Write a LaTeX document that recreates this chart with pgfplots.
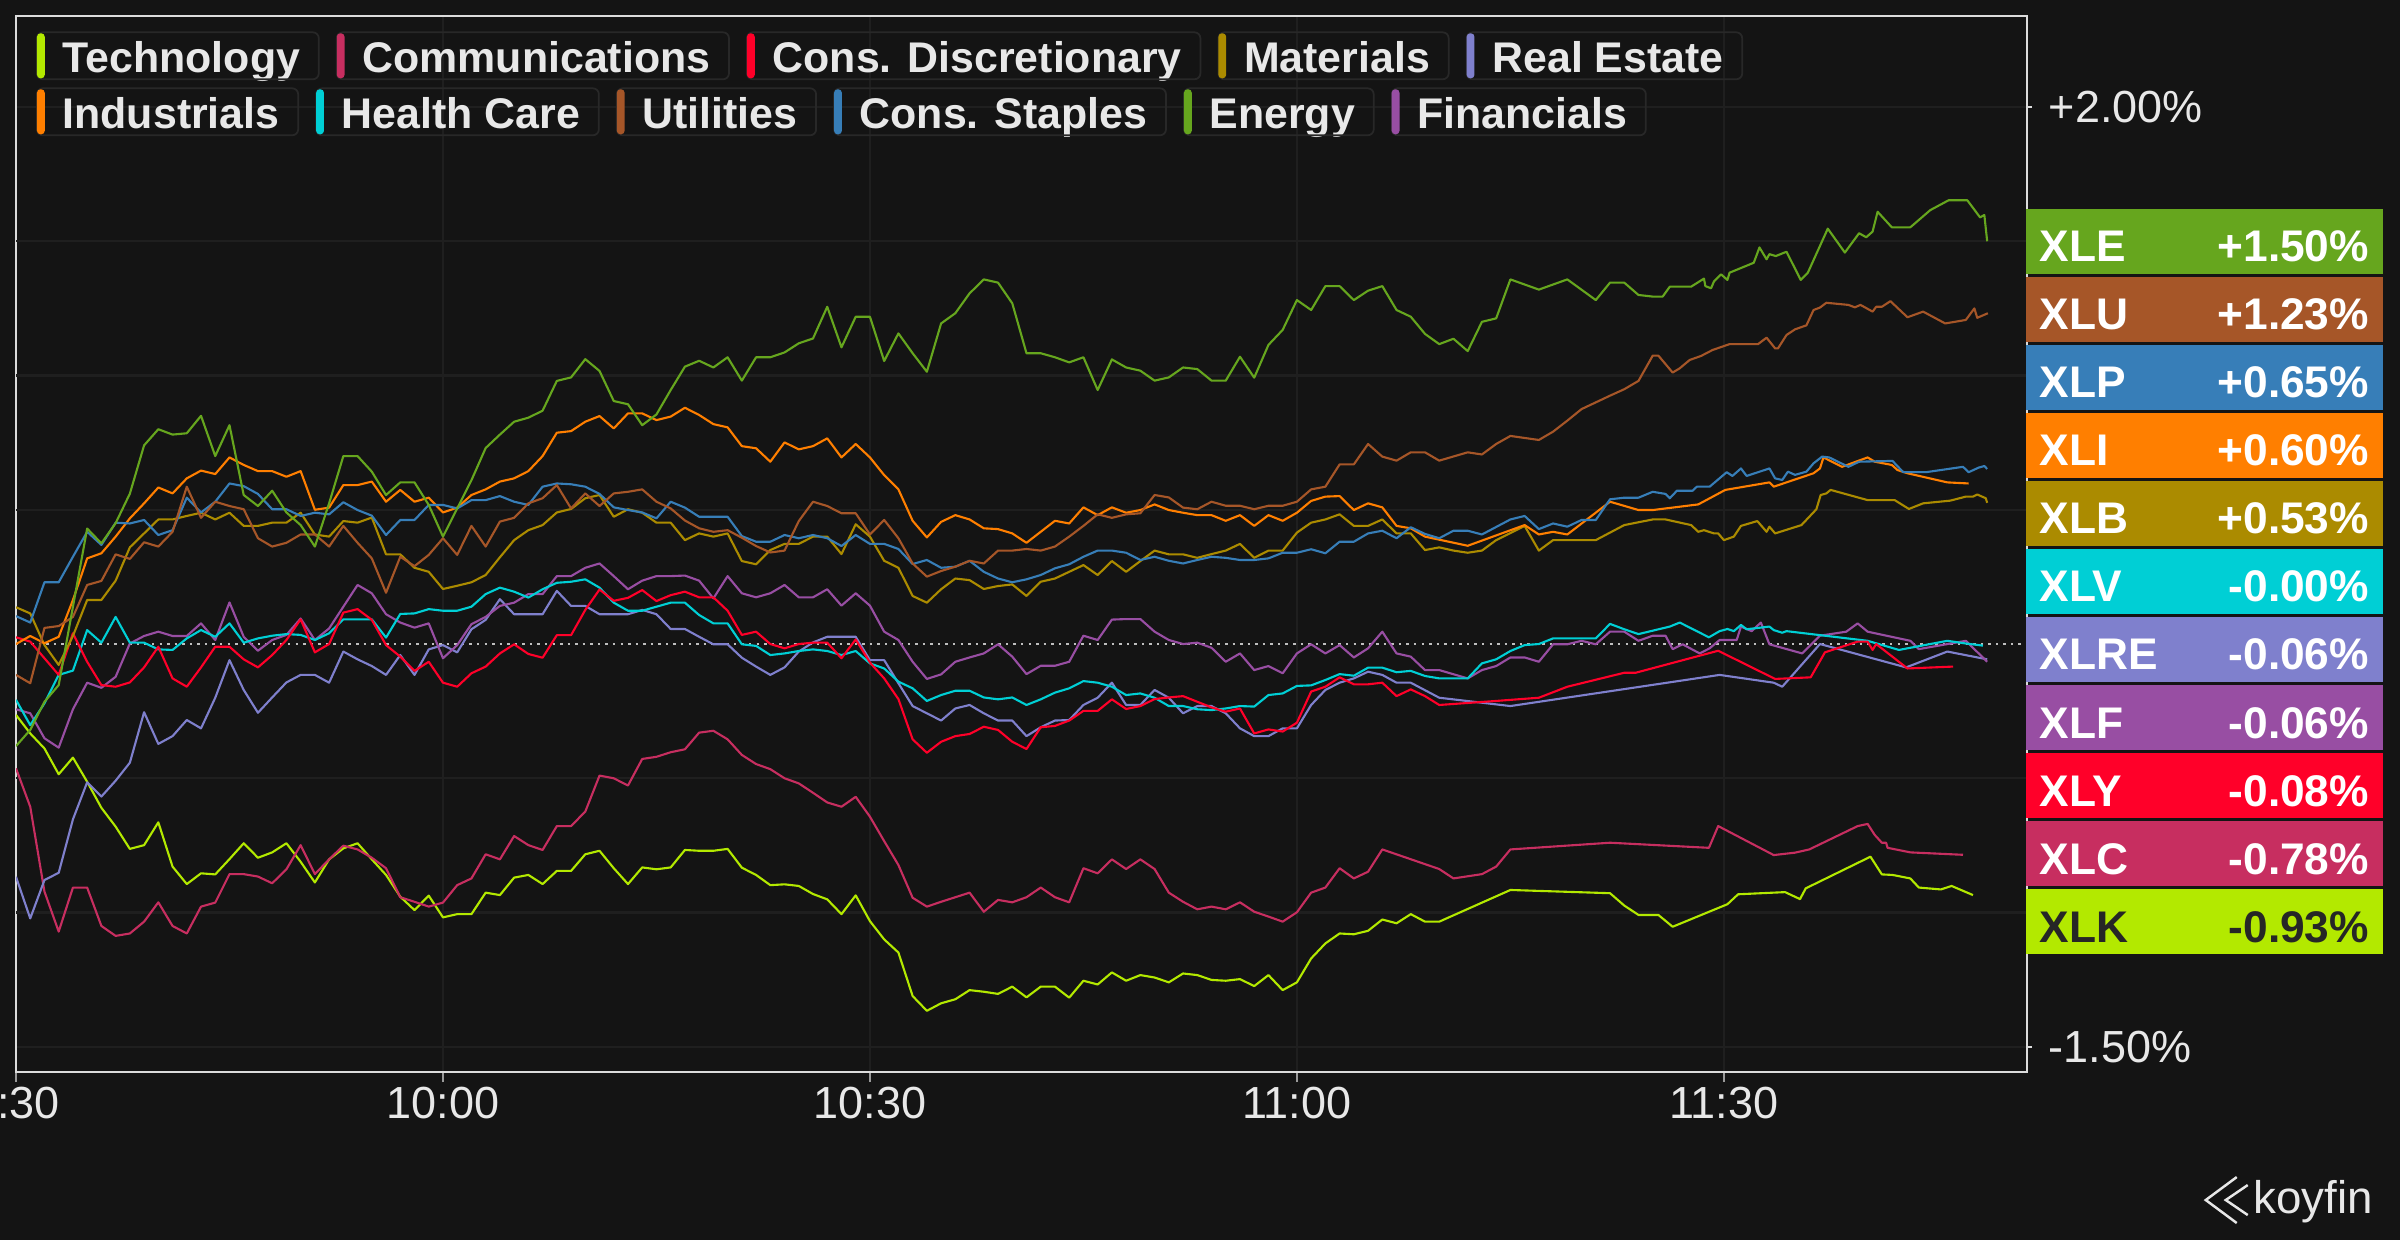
\documentclass[border=0pt]{standalone}
\usepackage{pgfplots}
\pgfplotsset{compat=1.18}
\usepackage{fontspec}
\setmainfont{Liberation Sans}
\usetikzlibrary{calc}
\definecolor{bg}{HTML}{141414}
\definecolor{gridc}{HTML}{1F1F1F}
\definecolor{framec}{HTML}{DCDCDC}
\definecolor{txt}{HTML}{E8E8E8}
\definecolor{legbox}{HTML}{282828}
\definecolor{cTech}{HTML}{B3E900}
\definecolor{cComm}{HTML}{C72E60}
\definecolor{cDisc}{HTML}{FF0029}
\definecolor{cMat}{HTML}{AB8B00}
\definecolor{cRE}{HTML}{7F80CD}
\definecolor{cInd}{HTML}{FF7F00}
\definecolor{cHC}{HTML}{00CFD5}
\definecolor{cUtil}{HTML}{A65628}
\definecolor{cStap}{HTML}{377EB8}
\definecolor{cEn}{HTML}{66A61E}
\definecolor{cFin}{HTML}{984EA3}
\tikzset{
  legt/.style={font=\bfseries\fontsize{12.2pt}{14pt}\selectfont, text=txt, inner sep=0pt},
  tagt/.style={font=\bfseries\fontsize{12.6pt}{15pt}\selectfont, inner sep=0pt},
  ser/.style={line width=0.6pt, line join=round}
}
\newcommand{\legitem}[6]{%
  \node[legt, anchor=base west] (#1) at #2 {#4};
  \draw[legbox, line width=0.5pt, rounded corners=0.06cm] let \p1=(#1.base west), \p2=(#1.base east) in
     (\x1-0.25cm,#6) rectangle (\x2+0.18cm,#5);
  \fill[#3, rounded corners=0.035cm] let \p1=(#1.base west) in
     (\x1-0.25cm,#6+0.01cm) rectangle (\x1-0.172cm,#5-0.01cm);
}
\newcommand{\tagbox}[5]{%
  \pgfmathsetmacro{\yt}{1240-208-68.1*#1}
  \fill[#2] (2027,\yt) rectangle (2384,\yt-65.3);
  \node[tagt, text=#5, anchor=base west] at (2040,\yt-53) {#3};
  \node[tagt, text=#5, anchor=base east] at (2371,\yt-53) {#4};
}
\begin{document}
\begin{tikzpicture}
\fill[bg] (0,0) rectangle (24cm,12.4cm);
\begin{axis}[
  at={(0.16cm,1.68cm)}, anchor=south west, scale only axis,
  width=20.11cm, height=10.56cm,
  xmin=0, xmax=141.3, ymin=-1.594, ymax=2.339,
  axis line style={draw=framec, line width=0.7pt},
  xtick={0,30,60,90,120},
  xticklabels={9:30,10:00,10:30,11:00,11:30},
  ytick={-1.5,2},
  yticklabels={-1.50\%,+2.00\%},
  extra y ticks={-1,-0.5,0.5,1,1.5},
  extra y tick labels={},
  extra y tick style={major tick length=0pt, grid=major},
  xtick pos=lower, ytick pos=upper, yticklabel pos=upper,
  tick align=outside,
  x tick style={draw=framec!70!black, line width=0.4pt},
  y tick style={draw=framec, line width=0.6pt},
  xmajorgrids, ymajorgrids,
  major grid style={draw=gridc, line width=0.6pt},
  xtick style={/pgfplots/major tick length=0.1cm},
  ytick style={/pgfplots/major tick length=0.05cm},
  xticklabel style={font=\fontsize{12.8pt}{15pt}\selectfont, text=txt, inner sep=0pt, anchor=north, yshift=0.01cm},
  yticklabel style={font=\fontsize{12.8pt}{15pt}\selectfont, text=txt, inner sep=0pt, anchor=west, xshift=0.06cm},
  clip=true,
]
\draw[draw=white!75!black, line width=0.6pt, dash pattern=on 0.7pt off 1.45pt] (axis cs:0,0) -- (axis cs:141.3,0);
% Technology
\addplot[ser, cTech] coordinates {(0,-0.264)(1,-0.333)(2,-0.389)(3,-0.485)(4,-0.423)(5,-0.513)(6,-0.61)(7,-0.68)(8,-0.763)(9,-0.749)(10,-0.664)(11,-0.829)(12,-0.894)(13,-0.854)(14,-0.858)(15,-0.801)(16,-0.742)(17,-0.796)(18,-0.776)(19,-0.742)(20,-0.811)(21,-0.888)(22,-0.802)(23,-0.761)(24,-0.742)(25,-0.802)(26,-0.86)(27,-0.941)(28,-0.991)(29,-0.937)(30,-1.018)(31,-1.006)(32,-1.006)(33,-0.926)(34,-0.935)(35,-0.87)(36,-0.86)(37,-0.894)(38,-0.845)(39,-0.845)(40,-0.783)(41,-0.77)(42,-0.835)(43,-0.894)(44,-0.832)(45,-0.839)(46,-0.832)(47,-0.767)(48,-0.77)(49,-0.77)(50,-0.763)(51,-0.833)(52,-0.86)(53,-0.898)(54,-0.895)(55,-0.901)(56,-0.931)(57,-0.951)(58,-1.006)(59,-0.936)(60,-1.032)(61,-1.1)(62,-1.149)(63,-1.311)(64,-1.366)(65,-1.338)(66,-1.323)(67,-1.289)(68,-1.295)(69,-1.303)(70,-1.276)(71,-1.316)(72,-1.276)(73,-1.276)(74,-1.317)(75,-1.254)(76,-1.268)(77,-1.223)(78,-1.254)(79,-1.233)(80,-1.242)(81,-1.26)(82,-1.227)(83,-1.233)(84,-1.251)(85,-1.254)(86,-1.248)(87,-1.274)(88,-1.233)(89,-1.289)(90,-1.26)(91,-1.171)(92,-1.115)(93,-1.078)(94,-1.081)(95,-1.068)(96,-1.026)(97,-1.04)(98,-1.006)(99,-1.034)(100,-1.034)(105,-0.916)(112,-0.928)(113,-0.974)(114,-1.009)(115.4,-1.009)(116.4,-1.053)(120.25,-0.969)(121,-0.932)(124.3,-0.924)(125.35,-0.95)(125.75,-0.91)(130.3,-0.792)(131.1,-0.858)(131.85,-0.86)(133.1,-0.873)(133.7,-0.907)(135.25,-0.914)(136,-0.901)(137.5,-0.935)};
% Communications
\addplot[ser, cComm] coordinates {(0,-0.463)(1,-0.606)(2,-0.922)(3,-1.071)(4,-0.907)(5,-0.907)(6,-1.05)(7,-1.087)(8,-1.078)(9,-1.034)(10,-0.962)(11,-1.05)(12,-1.078)(13,-0.978)(14,-0.963)(15,-0.857)(16,-0.857)(17,-0.866)(18,-0.891)(19,-0.839)(20,-0.749)(21,-0.857)(22,-0.802)(23,-0.751)(24,-0.765)(25,-0.796)(26,-0.835)(27,-0.943)(28,-0.96)(29,-0.978)(30,-0.963)(31,-0.898)(32,-0.873)(33,-0.783)(34,-0.802)(35,-0.715)(36,-0.749)(37,-0.767)(38,-0.678)(39,-0.678)(40,-0.624)(41,-0.49)(42,-0.5)(43,-0.527)(44,-0.428)(45,-0.42)(46,-0.403)(47,-0.392)(48,-0.33)(49,-0.323)(50,-0.355)(51,-0.413)(52,-0.447)(53,-0.466)(54,-0.5)(55,-0.519)(56,-0.554)(57,-0.59)(58,-0.606)(59,-0.569)(60,-0.643)(61,-0.734)(62,-0.823)(63,-0.945)(64,-0.978)(65,-0.96)(66,-0.943)(67,-0.926)(68,-0.997)(69,-0.953)(70,-0.962)(71,-0.943)(72,-0.907)(73,-0.943)(74,-0.962)(75,-0.835)(76,-0.854)(77,-0.802)(78,-0.838)(79,-0.802)(80,-0.838)(81,-0.926)(82,-0.96)(83,-0.988)(84,-0.978)(85,-0.988)(86,-0.962)(87,-0.997)(88,-1.015)(89,-1.034)(90,-0.999)(91,-0.926)(92,-0.907)(93,-0.835)(94,-0.873)(95,-0.848)(96,-0.765)(100,-0.838)(101,-0.873)(103,-0.857)(104,-0.829)(105,-0.765)(112,-0.74)(118.95,-0.759)(119.6,-0.678)(123.5,-0.786)(125,-0.777)(126,-0.765)(129.4,-0.678)(130.1,-0.67)(130.6,-0.711)(131.1,-0.74)(131.4,-0.74)(131.5,-0.759)(133.1,-0.776)(136.8,-0.785)};
% Real Estate
\addplot[ser, cRE] coordinates {(0,-0.867)(1,-1.022)(2,-0.879)(3,-0.852)(4,-0.653)(5,-0.515)(6,-0.568)(7,-0.509)(8,-0.442)(9,-0.254)(10,-0.372)(11,-0.343)(12,-0.283)(13,-0.314)(14,-0.2)(15,-0.06)(16,-0.171)(17,-0.256)(18,-0.199)(19,-0.143)(20,-0.115)(21,-0.115)(22,-0.144)(23,-0.028)(24,-0.057)(25,-0.082)(26,-0.115)(27,-0.041)(28,-0.115)(29,-0.02)(30,-0.004)(31,-0.031)(32,0.055)(33,0.09)(34,0.167)(35,0.111)(36,0.111)(37,0.111)(38,0.198)(39,0.142)(40,0.142)(41,0.111)(42,0.111)(43,0.111)(44,0.127)(45,0.111)(46,0.056)(47,0.056)(48,0.027)(49,-0.001)(50,-0.001)(51,-0.051)(52,-0.084)(53,-0.115)(54,-0.087)(55,-0.028)(56,0.006)(57,0.027)(58,0.027)(59,0.027)(60,-0.06)(61,-0.06)(62,-0.146)(63,-0.231)(64,-0.258)(65,-0.285)(66,-0.24)(67,-0.227)(68,-0.258)(69,-0.285)(70,-0.285)(71,-0.343)(72,-0.31)(73,-0.285)(74,-0.283)(75,-0.227)(76,-0.2)(77,-0.144)(78,-0.227)(79,-0.227)(80,-0.171)(81,-0.2)(82,-0.258)(83,-0.231)(84,-0.231)(85,-0.258)(86,-0.314)(87,-0.343)(88,-0.343)(89,-0.314)(90,-0.314)(91,-0.227)(92,-0.171)(93,-0.144)(94,-0.128)(95,-0.103)(96,-0.115)(97,-0.144)(98,-0.144)(100,-0.2)(105,-0.231)(119.7,-0.115)(123.5,-0.144)(124.1,-0.159)(126.75,0.0)(132.8,-0.087)(135.7,-0.028)(138.5,-0.057)};
% Financials
\addplot[ser, cFin] coordinates {(0,-0.243)(1,-0.258)(2,-0.351)(3,-0.386)(4,-0.243)(5,-0.144)(6,-0.163)(7,-0.122)(8,0.002)(9,0.03)(10,0.046)(11,0.03)(12,0.03)(13,0.077)(14,0.015)(15,0.155)(16,0.027)(17,-0.025)(18,0.015)(19,0.034)(20,0.095)(21,0.015)(22,0.058)(23,0.139)(24,0.22)(25,0.189)(26,0.111)(27,0.08)(28,0.061)(29,0.077)(30,-0.053)(31,-0.004)(32,0.074)(33,0.101)(34,0.142)(35,0.154)(36,0.186)(37,0.186)(38,0.253)(39,0.253)(40,0.284)(41,0.3)(42,0.253)(43,0.204)(44,0.236)(45,0.253)(46,0.253)(47,0.255)(48,0.236)(49,0.17)(50,0.253)(51,0.189)(52,0.174)(53,0.189)(54,0.22)(55,0.174)(56,0.174)(57,0.204)(58,0.143)(59,0.189)(60,0.143)(61,0.046)(62,0.015)(63,-0.066)(64,-0.13)(65,-0.113)(66,-0.066)(67,-0.05)(68,-0.035)(69,-0.001)(70,-0.047)(71,-0.112)(72,-0.081)(73,-0.081)(74,-0.066)(75,0.031)(76,0.015)(77,0.091)(78,0.093)(79,0.093)(80,0.046)(81,0.015)(82,0.0)(83,0.005)(84,-0.014)(85,-0.066)(86,-0.035)(87,-0.097)(88,-0.082)(89,-0.109)(90,-0.035)(91,-0.001)(92,-0.035)(93,-0.004)(94,-0.05)(95,-0.016)(96,0.046)(97,-0.035)(98,-0.047)(99,-0.097)(100,-0.097)(102,-0.128)(103,-0.097)(104,-0.082)(105,-0.05)(106,-0.05)(107,-0.066)(108,-0.001)(109,-0.001)(110,0.012)(111,-0.001)(112,0.046)(113,0.046)(114,0.012)(115,0.031)(115.9,0.031)(116.4,-0.019)(117.1,-0.001)(118.3,-0.035)(119,-0.016)(119.7,0.015)(120.9,0.015)(121.2,0.065)(121.95,0.048)(122.6,0.08)(123.2,-0.001)(125.5,-0.035)(126.75,0.031)(128.6,0.046)(129.4,0.077)(130.1,0.046)(133.1,0.012)(133.7,-0.019)(137,0.012)(138.5,-0.066)};
% Health Care
\addplot[ser, cHC] coordinates {(0,-0.208)(1,-0.302)(2,-0.221)(3,-0.115)(4,-0.099)(5,0.052)(6,0.005)(7,0.101)(8,0.005)(9,0.005)(10,-0.02)(11,-0.022)(12,0.021)(13,0.052)(14,0.027)(15,0.077)(16,0.005)(17,0.021)(18,0.031)(19,0.037)(20,0.034)(21,0.015)(22,0.04)(23,0.092)(24,0.092)(25,0.092)(26,0.024)(27,0.112)(28,0.114)(29,0.13)(30,0.124)(31,0.124)(32,0.139)(33,0.186)(34,0.21)(35,0.195)(36,0.173)(37,0.204)(38,0.228)(39,0.232)(40,0.241)(41,0.21)(42,0.154)(43,0.124)(44,0.124)(45,0.139)(46,0.154)(47,0.154)(48,0.108)(49,0.077)(50,0.077)(51,-0.001)(52,-0.007)(53,-0.041)(54,-0.035)(55,-0.026)(56,-0.02)(57,-0.026)(58,-0.041)(59,-0.026)(60,-0.072)(61,-0.091)(62,-0.14)(63,-0.165)(64,-0.212)(65,-0.19)(66,-0.174)(67,-0.174)(68,-0.199)(69,-0.206)(70,-0.199)(71,-0.227)(72,-0.206)(73,-0.181)(74,-0.165)(75,-0.138)(76,-0.144)(77,-0.159)(78,-0.19)(79,-0.184)(80,-0.2)(81,-0.231)(82,-0.231)(83,-0.243)(84,-0.246)(85,-0.24)(86,-0.231)(87,-0.233)(88,-0.19)(89,-0.184)(90,-0.156)(91,-0.154)(92,-0.134)(93,-0.112)(94,-0.118)(95,-0.088)(96,-0.088)(97,-0.105)(98,-0.1)(99,-0.119)(100,-0.128)(102,-0.128)(103,-0.072)(104,-0.057)(105,-0.026)(106,-0.004)(107,0.0)(108,0.021)(111,0.021)(112,0.075)(113,0.055)(114,0.037)(116.2,0.065)(116.9,0.08)(118.95,0.025)(119.7,0.048)(120.25,0.056)(120.7,0.048)(121.2,0.071)(121.6,0.055)(123.2,0.065)(123.5,0.052)(124.1,0.042)(124.4,0.048)(130.1,0.012)(132.3,-0.022)(135.7,0.012)(137,0.002)(138.2,-0.006)};
% Cons. Discretionary
\addplot[ser, cDisc] coordinates {(0,0.025)(1,0.009)(2,-0.053)(3,-0.115)(4,0.04)(5,-0.066)(6,-0.153)(7,-0.159)(8,-0.143)(9,-0.087)(10,-0.01)(11,-0.128)(12,-0.159)(13,-0.087)(14,-0.01)(15,-0.01)(16,-0.057)(17,-0.087)(18,-0.041)(19,0.015)(20,0.092)(21,-0.031)(22,0.0)(23,0.117)(24,0.13)(25,0.09)(26,-0.004)(27,-0.047)(28,-0.1)(29,-0.066)(30,-0.144)(31,-0.159)(32,-0.109)(33,-0.084)(34,-0.035)(35,-0.001)(36,-0.037)(37,-0.051)(38,0.033)(39,0.033)(40,0.127)(41,0.203)(42,0.161)(43,0.172)(44,0.201)(45,0.16)(46,0.182)(47,0.195)(48,0.174)(49,0.174)(50,0.124)(51,0.034)(52,0.046)(53,0.0)(54,-0.016)(55,0)(56,0.005)(57,0.005)(58,-0.053)(59,0.017)(60,-0.069)(61,-0.128)(62,-0.205)(63,-0.355)(64,-0.405)(65,-0.364)(66,-0.343)(67,-0.335)(68,-0.308)(69,-0.32)(70,-0.364)(71,-0.391)(72,-0.31)(73,-0.305)(74,-0.285)(75,-0.249)(76,-0.249)(77,-0.206)(78,-0.242)(79,-0.231)(80,-0.205)(81,-0.199)(82,-0.194)(83,-0.215)(84,-0.236)(85,-0.252)(86,-0.24)(87,-0.333)(88,-0.318)(89,-0.326)(90,-0.293)(91,-0.177)(92,-0.159)(93,-0.124)(94,-0.15)(95,-0.15)(96,-0.144)(97,-0.194)(98,-0.169)(99,-0.194)(100,-0.227)(104,-0.212)(107,-0.2)(109,-0.159)(113,-0.107)(113.8,-0.107)(119.6,-0.025)(123.6,-0.13)(126.1,-0.124)(127.1,-0.031)(129.4,0.009)(130.1,0.009)(130.45,-0.022)(130.7,0.0)(132.9,-0.091)(136.1,-0.084)};
% Materials
\addplot[ser, cMat] coordinates {(0,0.137)(1,0.114)(2,-0.004)(3,-0.078)(4,0.03)(5,0.164)(6,0.164)(7,0.236)(8,0.36)(9,0.412)(10,0.464)(11,0.464)(12,0.477)(13,0.489)(14,0.464)(15,0.489)(16,0.44)(17,0.44)(18,0.452)(19,0.452)(20,0.489)(21,0.408)(22,0.4)(23,0.458)(24,0.452)(25,0.471)(26,0.334)(27,0.334)(28,0.284)(29,0.269)(30,0.205)(31,0.217)(32,0.23)(33,0.257)(34,0.323)(35,0.387)(36,0.424)(37,0.443)(38,0.49)(39,0.503)(40,0.543)(41,0.555)(42,0.474)(43,0.502)(44,0.489)(45,0.452)(46,0.452)(47,0.387)(48,0.412)(49,0.4)(50,0.412)(51,0.309)(52,0.297)(53,0.35)(54,0.373)(55,0.373)(56,0.4)(57,0.4)(58,0.335)(59,0.446)(60,0.4)(61,0.31)(62,0.284)(63,0.179)(64,0.154)(65,0.204)(66,0.244)(67,0.238)(68,0.205)(69,0.216)(70,0.222)(71,0.179)(72,0.232)(73,0.244)(74,0.269)(75,0.294)(76,0.257)(77,0.309)(78,0.269)(79,0.309)(80,0.348)(81,0.334)(82,0.334)(83,0.321)(84,0.335)(85,0.348)(86,0.373)(87,0.321)(88,0.348)(89,0.348)(90,0.415)(91,0.452)(92,0.464)(93,0.483)(94,0.44)(95,0.44)(96,0.464)(97,0.412)(98,0.412)(99,0.35)(100,0.36)(101,0.348)(102,0.34)(103,0.348)(104,0.387)(106,0.44)(107,0.348)(108,0.387)(111,0.387)(113,0.443)(115,0.464)(115.9,0.464)(117.7,0.443)(118.2,0.418)(118.6,0.424)(119.3,0.412)(119.6,0.412)(120,0.387)(120.7,0.4)(121.2,0.44)(122.35,0.458)(123,0.418)(123.2,0.437)(123.6,0.412)(125.45,0.443)(126.5,0.502)(126.8,0.555)(127.2,0.561)(127.5,0.574)(130.1,0.536)(132,0.536)(133,0.503)(134,0.524)(135.9,0.534)(137,0.549)(137.5,0.549)(137.8,0.557)(138.4,0.543)(138.5,0.526)};
% Industrials
\addplot[ser, cInd] coordinates {(0,0.0)(1,0.03)(2,0.003)(3,0.027)(4,0.164)(5,0.319)(6,0.338)(7,0.4)(8,0.468)(9,0.524)(10,0.583)(11,0.561)(12,0.617)(13,0.646)(14,0.633)(15,0.695)(16,0.667)(17,0.644)(18,0.644)(19,0.623)(20,0.644)(21,0.5)(22,0.508)(23,0.592)(24,0.592)(25,0.605)(26,0.53)(27,0.574)(28,0.53)(29,0.545)(30,0.49)(31,0.508)(32,0.555)(33,0.576)(34,0.605)(35,0.617)(36,0.644)(37,0.7)(38,0.787)(39,0.793)(40,0.828)(41,0.849)(42,0.803)(43,0.859)(44,0.859)(45,0.834)(46,0.847)(47,0.88)(48,0.853)(49,0.819)(50,0.807)(51,0.737)(52,0.729)(53,0.679)(54,0.751)(55,0.725)(56,0.737)(57,0.766)(58,0.695)(59,0.745)(60,0.695)(61,0.629)(62,0.576)(63,0.459)(64,0.397)(65,0.455)(66,0.48)(67,0.464)(68,0.431)(69,0.428)(70,0.412)(71,0.377)(72,0.418)(73,0.459)(74,0.449)(75,0.509)(76,0.48)(77,0.509)(78,0.489)(79,0.499)(80,0.52)(81,0.499)(82,0.489)(83,0.48)(84,0.48)(85,0.459)(86,0.48)(87,0.44)(88,0.48)(89,0.459)(90,0.489)(91,0.533)(92,0.549)(93,0.551)(94,0.499)(95,0.524)(96,0.509)(97,0.44)(98,0.431)(99,0.4)(102,0.366)(106,0.443)(107,0.408)(108,0.418)(109,0.408)(112,0.53)(114,0.499)(115,0.499)(118.2,0.52)(120.1,0.574)(123.2,0.602)(123.5,0.586)(126.3,0.636)(126.75,0.654)(127,0.695)(128.3,0.66)(130.1,0.695)(130.6,0.679)(131.8,0.667)(132.2,0.648)(132.9,0.636)(135.7,0.602)(137.2,0.598)};
% Cons. Staples
\addplot[ser, cStap] coordinates {(0,0.104)(1,0.08)(2,0.23)(3,0.23)(4,0.325)(5,0.418)(6,0.369)(7,0.452)(8,0.449)(9,0.462)(10,0.406)(11,0.424)(12,0.545)(13,0.49)(14,0.53)(15,0.598)(16,0.588)(17,0.559)(18,0.502)(19,0.502)(20,0.477)(21,0.489)(22,0.483)(23,0.528)(24,0.499)(25,0.478)(26,0.406)(27,0.462)(28,0.462)(29,0.518)(30,0.518)(31,0.505)(32,0.536)(33,0.536)(34,0.551)(35,0.53)(36,0.518)(37,0.586)(38,0.598)(39,0.595)(40,0.586)(41,0.559)(42,0.509)(43,0.499)(44,0.49)(45,0.468)(46,0.53)(47,0.508)(48,0.474)(49,0.474)(50,0.474)(51,0.402)(52,0.381)(53,0.381)(54,0.406)(55,0.394)(56,0.406)(57,0.394)(58,0.365)(59,0.406)(60,0.373)(61,0.373)(62,0.354)(63,0.298)(64,0.313)(65,0.284)(66,0.288)(67,0.31)(68,0.269)(69,0.244)(70,0.23)(71,0.241)(72,0.257)(73,0.282)(74,0.297)(75,0.325)(76,0.348)(77,0.348)(78,0.34)(79,0.313)(80,0.325)(81,0.31)(82,0.3)(83,0.313)(84,0.325)(85,0.321)(86,0.313)(87,0.313)(88,0.319)(89,0.34)(90,0.34)(91,0.353)(92,0.338)(93,0.381)(94,0.381)(95,0.412)(96,0.422)(97,0.394)(98,0.435)(99,0.41)(100,0.394)(101,0.422)(102,0.422)(103,0.408)(105,0.464)(106,0.477)(107,0.428)(108,0.449)(109,0.437)(110,0.462)(111,0.462)(112,0.539)(113,0.545)(114,0.545)(115,0.567)(115.9,0.559)(116.2,0.543)(116.7,0.571)(117.8,0.571)(118.1,0.586)(119,0.586)(120.2,0.64)(120.6,0.626)(121.2,0.654)(121.6,0.626)(122.4,0.64)(123.2,0.654)(123.6,0.617)(124.1,0.611)(124.5,0.642)(125,0.63)(125.8,0.642)(126.3,0.673)(126.9,0.698)(127.4,0.695)(128.75,0.66)(129.5,0.679)(131.85,0.682)(132.6,0.64)(134.2,0.64)(136.8,0.66)(137.2,0.64)(137.9,0.657)(138.3,0.663)(138.5,0.652)};
% Utilities
\addplot[ser, cUtil] coordinates {(0,-0.115)(1,-0.146)(2,0.06)(3,0.067)(4,0.101)(5,0.22)(6,0.235)(7,0.334)(8,0.317)(9,0.379)(10,0.363)(11,0.418)(12,0.586)(13,0.47)(14,0.53)(15,0.514)(16,0.502)(17,0.394)(18,0.363)(19,0.377)(20,0.408)(21,0.408)(22,0.363)(23,0.44)(24,0.377)(25,0.319)(26,0.191)(27,0.325)(28,0.29)(29,0.332)(30,0.394)(31,0.332)(32,0.44)(33,0.363)(34,0.456)(35,0.47)(36,0.524)(37,0.543)(38,0.592)(39,0.505)(40,0.561)(41,0.514)(42,0.561)(43,0.567)(44,0.576)(45,0.53)(46,0.505)(47,0.46)(48,0.431)(49,0.418)(50,0.424)(51,0.396)(52,0.365)(53,0.341)(54,0.348)(55,0.458)(56,0.53)(57,0.514)(58,0.487)(59,0.487)(60,0.408)(61,0.462)(62,0.394)(63,0.3)(64,0.251)(65,0.272)(66,0.288)(67,0.31)(68,0.3)(69,0.348)(70,0.348)(71,0.354)(72,0.348)(73,0.363)(74,0.4)(75,0.44)(76,0.483)(77,0.47)(78,0.483)(79,0.487)(80,0.555)(81,0.546)(82,0.508)(83,0.502)(84,0.53)(85,0.515)(86,0.515)(87,0.502)(88,0.515)(89,0.515)(90,0.53)(91,0.576)(92,0.586)(93,0.669)(94,0.669)(95,0.745)(96,0.698)(97,0.683)(98,0.714)(99,0.714)(100,0.683)(102,0.714)(103,0.706)(104,0.745)(105,0.775)(107,0.76)(108,0.791)(109,0.832)(110,0.875)(111,0.9)(112,0.925)(113,0.949)(114,0.98)(115,1.074)(115.4,1.074)(116.4,1.011)(116.9,1.027)(117.6,1.058)(118.4,1.073)(119.2,1.095)(120.4,1.117)(122.4,1.117)(123,1.141)(123.6,1.101)(123.8,1.101)(124.4,1.151)(125,1.172)(125.8,1.187)(126.3,1.244)(126.75,1.253)(127.2,1.271)(128.75,1.263)(129.2,1.254)(129.6,1.263)(130.45,1.238)(130.7,1.256)(131.1,1.256)(131.7,1.277)(132.9,1.217)(134,1.238)(135.55,1.194)(137,1.207)(137.6,1.25)(137.8,1.215)(138.55,1.232)};
% Energy
\addplot[ser, cEn] coordinates {(0,-0.38)(1,-0.32)(2,-0.215)(3,-0.153)(5,0.43)(6,0.375)(7,0.45)(8,0.56)(9,0.74)(10,0.8)(11,0.78)(12,0.785)(13,0.85)(14,0.7)(15,0.815)(16,0.555)(17,0.514)(18,0.571)(19,0.49)(20,0.443)(21,0.363)(22,0.524)(23,0.7)(24,0.7)(25,0.642)(26,0.555)(27,0.602)(28,0.602)(29,0.518)(30,0.4)(31,0.505)(32,0.61)(33,0.73)(34,0.78)(35,0.828)(36,0.843)(37,0.869)(38,0.98)(39,0.993)(40,1.061)(41,1.017)(42,0.905)(43,0.893)(44,0.815)(45,0.855)(46,0.946)(47,1.033)(48,1.055)(49,1.03)(50,1.068)(51,0.981)(52,1.068)(53,1.068)(54,1.086)(55,1.12)(56,1.138)(57,1.256)(58,1.105)(59,1.219)(60,1.219)(61,1.054)(62,1.157)(63,1.083)(64,1.014)(65,1.194)(66,1.232)(67,1.306)(68,1.358)(69,1.346)(70,1.269)(71,1.083)(72,1.083)(73,1.068)(74,1.049)(75,1.068)(76,0.946)(77,1.06)(78,1.03)(79,1.018)(80,0.981)(81,0.993)(82,1.03)(83,1.024)(84,0.981)(85,0.981)(86,1.07)(87,0.992)(88,1.114)(89,1.17)(90,1.281)(91,1.244)(92,1.333)(93,1.333)(94,1.281)(95,1.316)(96,1.333)(97,1.244)(98,1.219)(99,1.155)(100,1.117)(101,1.137)(102,1.091)(103,1.2)(104,1.213)(105,1.358)(107,1.32)(109,1.358)(111,1.281)(112,1.346)(113,1.346)(114,1.3)(115,1.294)(115.7,1.294)(116.2,1.331)(117.7,1.331)(118.6,1.361)(118.7,1.333)(119.1,1.325)(119.3,1.35)(119.8,1.377)(120.25,1.356)(120.4,1.383)(122.1,1.42)(122.5,1.477)(123,1.433)(123.2,1.452)(123.65,1.445)(124.4,1.461)(124.6,1.44)(125.4,1.356)(125.9,1.383)(127.3,1.547)(128.5,1.458)(129.5,1.53)(130,1.515)(130.45,1.536)(130.8,1.61)(131.8,1.552)(133.1,1.552)(134.5,1.616)(135.8,1.653)(137.1,1.653)(138,1.589)(138.3,1.598)(138.5,1.5)};
\end{axis}
\begin{scope}[x=0.01cm,y=0.01cm]
% legend
\legitem{a1}{(62,1168)}{cTech}{Technology}{12.077cm}{11.607cm}
\legitem{a2}{($(a1.base east)+(61,0)$)}{cComm}{Communications}{12.077cm}{11.607cm}
\legitem{a3}{($(a2.base east)+(61,0)$)}{cDisc}{Cons. Discretionary}{12.077cm}{11.607cm}
\legitem{a4}{($(a3.base east)+(61,0)$)}{cMat}{Materials}{12.077cm}{11.607cm}
\legitem{a5}{($(a4.base east)+(61,0)$)}{cRE}{Real Estate}{12.077cm}{11.607cm}
\legitem{b1}{(62,1112)}{cInd}{Industrials}{11.517cm}{11.047cm}
\legitem{b2}{($(b1.base east)+(61,0)$)}{cHC}{Health Care}{11.517cm}{11.047cm}
\legitem{b3}{($(b2.base east)+(61,0)$)}{cUtil}{Utilities}{11.517cm}{11.047cm}
\legitem{b4}{($(b3.base east)+(61,0)$)}{cStap}{Cons. Staples}{11.517cm}{11.047cm}
\legitem{b5}{($(b4.base east)+(61,0)$)}{cEn}{Energy}{11.517cm}{11.047cm}
\legitem{b6}{($(b5.base east)+(61,0)$)}{cFin}{Financials}{11.517cm}{11.047cm}
% value tags
\tagbox{0}{cEn}{XLE}{+1.50\%}{white}
\tagbox{1}{cUtil}{XLU}{+1.23\%}{white}
\tagbox{2}{cStap}{XLP}{+0.65\%}{white}
\tagbox{3}{cInd}{XLI}{+0.60\%}{white}
\tagbox{4}{cMat}{XLB}{+0.53\%}{white}
\tagbox{5}{cHC}{XLV}{-0.00\%}{white}
\tagbox{6}{cRE}{XLRE}{-0.06\%}{white}
\tagbox{7}{cFin}{XLF}{-0.06\%}{white}
\tagbox{8}{cDisc}{XLY}{-0.08\%}{white}
\tagbox{9}{cComm}{XLC}{-0.78\%}{white}
\tagbox{10}{cTech}{XLK}{-0.93\%}{black!85}
% logo
\draw[txt, line width=0.7pt, line join=miter] (2238,63) -- (2207,40) -- (2238,17);
\draw[txt, line width=0.7pt, line join=miter] (2249,55) -- (2227,40) -- (2249,25);
\node[anchor=base west, inner sep=0pt, text=txt, font=\fontsize{13pt}{15pt}\selectfont] at (2254,27) {koyfin};
\end{scope}
\pgfresetboundingbox
\useasboundingbox (0,0) rectangle (24cm,12.4cm);
\end{tikzpicture}
\end{document}
